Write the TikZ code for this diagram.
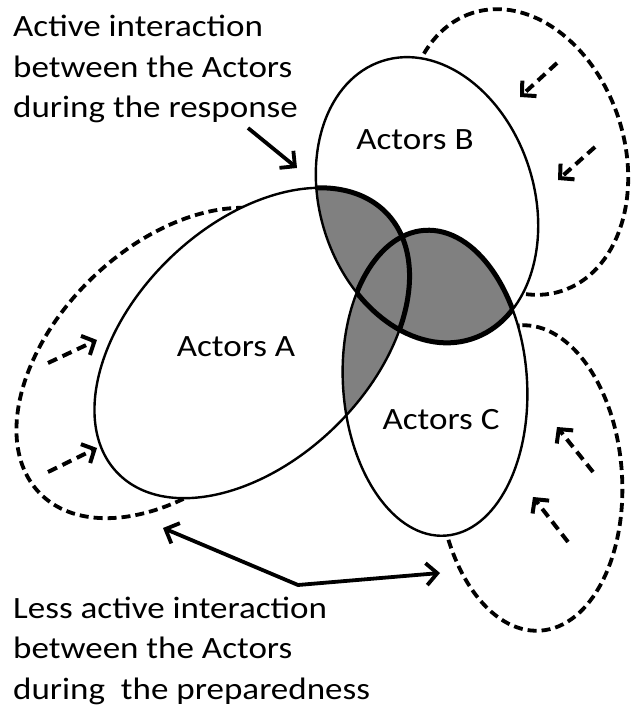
\documentclass[tikz,border=0pt]{standalone}
\usepackage{fontspec}
\setmainfont{Carlito}[FakeStretch=1.13]
\usetikzlibrary{arrows.meta}
\newcommand\ellA{(252,363) circle [x radius=187, y radius=118, rotate=44]}
\newcommand\ellB{(427,506) circle [x radius=146, y radius=107, rotate=107.7]}
\newcommand\ellC{(435,323) circle [x radius=153, y radius=92, rotate=93.9]}
\newcommand\ellAd{(174,343) circle [x radius=187, y radius=118, rotate=44]}
\newcommand\ellBd{(517,554) circle [x radius=146, y radius=107, rotate=107.7]}
\newcommand\ellCd{(530,228) circle [x radius=153, y radius=92, rotate=93.9]}
\tikzset{
  solidline/.style={line width=2.4pt},
  dashline/.style={line width=3.8pt, dash pattern=on 9pt off 5pt},
  lensgray/.style={fill=black!50},
  lensline/.style={line width=5pt},
  dasharrow/.style={line width=4pt, dash pattern=on 10pt off 6pt, -{Straight Barb[length=10pt,width=21pt]}},
  solidarrow/.style={line width=3.8pt, -{Straight Barb[length=11pt,width=22pt]}},
  bigtext/.style={font=\fontsize{31}{40.5}\selectfont, inner sep=0pt},
}
\begin{document}
\begin{tikzpicture}[x=1pt,y=1pt]
\useasboundingbox (0,0) rectangle (632,706);
% dashed (less active) ellipses
\draw[dashline] \ellAd;
\draw[dashline] \ellBd;
\draw[dashline] \ellCd;
% white bodies
\fill[white] \ellA;
\fill[white] \ellB;
\fill[white] \ellC;
% gray overlaps
\begin{scope}
  \clip \ellA;
  \fill[lensgray] \ellB;
  \fill[lensgray] \ellC;
\end{scope}
\begin{scope}
  \clip \ellB;
  \fill[lensgray] \ellC;
\end{scope}
% outlines
\draw[solidline] \ellA;
\draw[solidline] \ellB;
\draw[solidline] \ellC;
\begin{scope}
  \clip \ellB;
  \draw[lensline] \ellA;
  \draw[lensline] \ellC;
\end{scope}
\begin{scope}
  \clip \ellC;
  \draw[lensline] \ellB;
\end{scope}
% labels
\node[bigtext, anchor=base] (lA) at (236,349) {Actors A};
\node[bigtext, anchor=base] (lB) at (415,556) {Actors B};
\node[bigtext, anchor=base] (lC) at (441,276) {Actors C};
\node[bigtext, anchor=north west, align=left] (top) at (13,691)
  {Active interaction\\between the Actors\\during the response};
\node[bigtext, anchor=north west, align=left] (bottom) at (13,109.5)
  {Less active interaction\\between the Actors\\during~ the preparedness};
% arrow end points
\coordinate (r0) at (248,578);
\coordinate (r1) at (297,538);
\coordinate (b1s) at (557,643);
\coordinate (b1e) at (520,609);
\coordinate (b2s) at (595,559);
\coordinate (b2e) at (558,526);
\coordinate (a1s) at (48,343);
\coordinate (a1e) at (97,366);
\coordinate (a2s) at (48,234);
\coordinate (a2e) at (97,258);
\coordinate (c1s) at (593,234);
\coordinate (c1e) at (557,279);
\coordinate (c2s) at (568,164);
\coordinate (c2e) at (533,209);
\coordinate (pl) at (163,178);
\coordinate (pc) at (298,121);
\coordinate (pr) at (440,133);
% arrows
\draw[solidarrow] (r0) -- (r1);
\draw[dasharrow] (b1s) -- (b1e);
\draw[dasharrow] (b2s) -- (b2e);
\draw[dasharrow] (a1s) -- (a1e);
\draw[dasharrow] (a2s) -- (a2e);
\draw[dasharrow] (c1s) -- (c1e);
\draw[dasharrow] (c2s) -- (c2e);
\draw[line width=3.8pt, {Straight Barb[length=11pt,width=22pt]}-{Straight Barb[length=11pt,width=22pt]}] (pl) -- (pc) -- (pr);
\end{tikzpicture}
\end{document}
